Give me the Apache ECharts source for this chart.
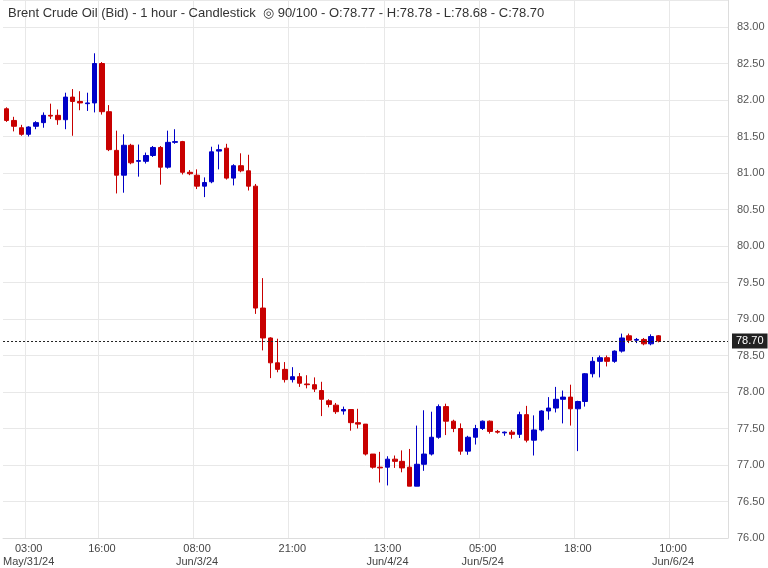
<!DOCTYPE html>
<html>
<head>
<meta charset="UTF-8">
<script src="https://cdn.jsdelivr.net/npm/echarts@6/dist/echarts.min.js"></script>
<style>html,body{margin:0;padding:0;background:#fff}</style>
</head>
<body>
<div id="main" style="width:768px;height:568px;"></div>
<script>
// OHLC, [open, close, low, high]
var candles = [
  [81.88,81.72,81.70,81.90],[81.72,81.64,81.57,81.77],[81.62,81.53,81.51,81.66],[81.53,81.63,81.50,81.64],
  [81.64,81.69,81.60,81.71],[81.69,81.79,81.62,81.83],[81.79,81.78,81.74,81.95],[81.79,81.73,81.66,81.87],
  [81.73,82.04,81.60,82.10],[82.04,81.98,81.51,82.15],[81.98,81.96,81.86,82.12],[81.95,81.96,81.85,82.10],
  [81.96,82.50,81.83,82.64],[82.50,81.84,81.80,82.52],[81.84,81.32,81.30,81.93],[81.31,80.97,80.72,81.58],
  [80.97,81.38,80.73,81.53],[81.38,81.14,81.12,81.40],[81.16,81.17,80.95,81.39],[81.16,81.24,81.13,81.28],
  [81.24,81.35,81.22,81.37],[81.35,81.08,80.84,81.37],[81.08,81.42,81.06,81.58],[81.42,81.43,81.40,81.60],
  [81.43,81.01,80.98,81.44],[81.01,80.99,80.97,81.04],[80.97,80.82,80.78,81.05],[80.82,80.87,80.67,80.94],
  [80.88,81.29,80.86,81.36],[81.30,81.32,81.05,81.39],[81.34,80.93,80.91,81.40],[80.93,81.10,80.83,81.12],
  [81.10,81.03,81.01,81.27],[81.03,80.82,80.76,81.25],[80.82,79.15,79.07,80.85],[79.15,78.74,78.57,79.56],
  [78.74,78.40,78.19,78.75],[78.40,78.31,78.27,78.73],[78.31,78.17,78.13,78.41],[78.17,78.21,78.13,78.34],
  [78.21,78.12,78.07,78.26],[78.11,78.10,78.05,78.23],[78.10,78.04,78.00,78.20],[78.02,77.90,77.67,78.14],
  [77.88,77.83,77.79,77.90],[77.82,77.73,77.70,77.85],[77.74,77.76,77.69,77.80],[77.76,77.58,77.47,77.76],
  [77.58,77.56,77.50,77.77],[77.56,77.15,77.13,77.56],[77.15,76.97,76.95,77.15],[76.97,76.96,76.76,77.18],
  [76.97,77.08,76.72,77.12],[77.08,77.05,76.96,77.13],[77.05,76.96,76.90,77.20],[76.97,76.71,76.71,77.22],
  [76.71,77.01,76.71,77.54],[77.01,77.15,76.92,77.75],[77.15,77.38,77.13,77.73],[77.38,77.80,77.36,77.83],
  [77.80,77.60,77.41,77.84],[77.60,77.50,77.45,77.62],[77.50,77.19,77.14,77.57],[77.19,77.38,77.14,77.40],
  [77.38,77.50,77.28,77.55],[77.50,77.60,77.48,77.61],[77.60,77.46,77.43,77.61],[77.46,77.45,77.43,77.48],
  [77.44,77.45,77.40,77.46],[77.45,77.42,77.36,77.48],[77.42,77.69,77.37,77.73],[77.69,77.34,77.31,77.81],
  [77.34,77.48,77.13,77.68],[77.48,77.74,77.46,77.75],[77.74,77.78,77.62,77.93],[77.78,77.90,77.72,78.07],
  [77.90,77.93,77.57,78.02],[77.93,77.77,77.54,78.10],[77.77,77.87,77.19,77.88],[77.87,78.25,77.80,78.26],
  [78.25,78.42,78.20,78.48],[78.42,78.47,78.20,78.50],[78.47,78.42,78.35,78.50],[78.42,78.56,78.40,78.57],
  [78.56,78.74,78.54,78.80],[78.77,78.71,78.67,78.80],[78.71,78.72,78.67,78.74],[78.72,78.66,78.64,78.74],
  [78.66,78.76,78.64,78.79],[78.77,78.70,78.68,78.78]
];
var slotCount = 99;
var tickIndex = [3, 13, 26, 39, 52, 65, 78, 91];
var tickLabels = ['03:00\nMay/31/24', '16:00', '08:00\nJun/3/24', '21:00', '13:00\nJun/4/24', '05:00\nJun/5/24', '18:00', '10:00\nJun/6/24'];
var lastPrice = 78.70;

var cats = [];
for (var i = 0; i < slotCount; i++) cats.push(String(i));
function isTick(i) { return tickIndex.indexOf(i) >= 0; }

var myChart = echarts.init(document.getElementById('main'));
var option = {
    animation: false,
    grid: { left: 0, right: 40, top: 0, bottom: 28 },
    graphic: [{
        type: 'text', left: 8, top: 7, z: 100,
        style: { text: 'Brent Crude Oil (Bid) - 1 hour - Candlestick  \u25CE 90/100 - O:78.77 - H:78.78 - L:78.68 - C:78.70',
                 fill: '#333', font: '13px Arial, "Liberation Sans", sans-serif' }
    }],
    xAxis: {
        type: 'category', data: cats, boundaryGap: true,
        axisLine: { lineStyle: { color: '#ddd' } },
        axisTick: { show: false },
        axisLabel: {
            interval: function (i) { return isTick(i); },
            formatter: function (v, i) { var k = tickIndex.indexOf(i); return k >= 0 ? tickLabels[k] : ''; },
            color: '#444', fontSize: 11, lineHeight: 13, margin: 4,
            fontFamily: 'Arial, "Liberation Sans", sans-serif'
        },
        splitLine: { show: true, interval: function (i) { return isTick(i); }, lineStyle: { color: '#e8e8e8' } }
    },
    yAxis: {
        type: 'value', position: 'right', min: 76, max: 83.37, interval: 0.5,
        axisLine: { show: true, lineStyle: { color: '#ddd' } },
        axisTick: { show: false },
        axisLabel: { showMaxLabel: false, formatter: function (v) { return v.toFixed(2); }, color: '#555', fontSize: 11, margin: 9,
                     fontFamily: 'Arial, "Liberation Sans", sans-serif' },
        splitLine: { lineStyle: { color: '#e8e8e8' } }
    },
    series: [{
        type: 'candlestick',
        data: candles,
        barWidth: 5,
        itemStyle: { color: '#0000c8', color0: '#c80000', borderColor: '#0000c8', borderColor0: '#c80000', borderWidth: 1 },
        markLine: {
            symbol: 'none', silent: true,
            lineStyle: { color: '#222', type: [2, 2], width: 1 },
            label: { position: 'end', formatter: '78.70', color: '#fff', backgroundColor: '#222',
                     padding: [2, 4], fontSize: 11, distance: 4 },
            data: [{ yAxis: lastPrice }]
        }
    }]
};
myChart.setOption(option);
</script>
</body>
</html>
